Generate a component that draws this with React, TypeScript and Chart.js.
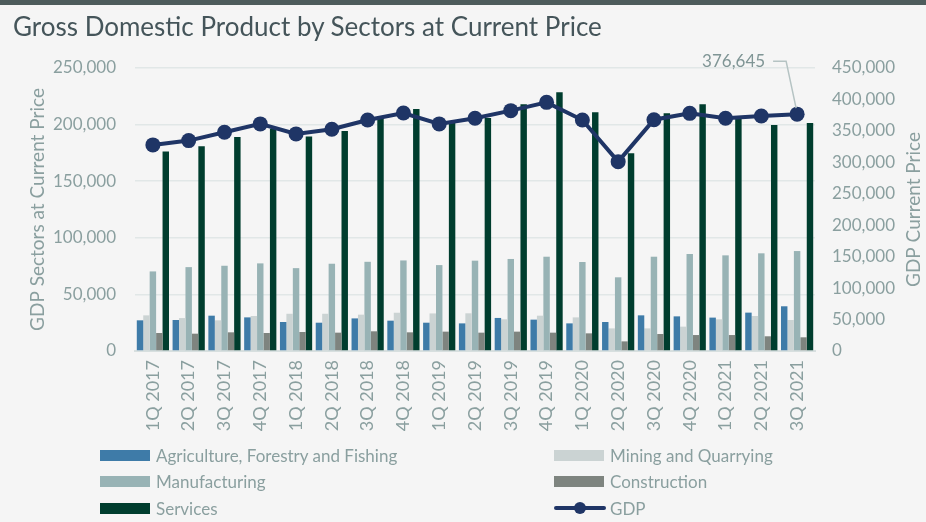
import React, { useEffect, useRef } from "react";
import { Chart, registerables } from "chart.js";

Chart.register(...registerables);

const categories = [
  "1Q 2017", "2Q 2017", "3Q 2017", "4Q 2017",
  "1Q 2018", "2Q 2018", "3Q 2018", "4Q 2018",
  "1Q 2019", "2Q 2019", "3Q 2019", "4Q 2019",
  "1Q 2020", "2Q 2020", "3Q 2020", "4Q 2020",
  "1Q 2021", "2Q 2021", "3Q 2021",
];

const agriculture = [27100, 27400, 31200, 29700, 25600, 25000, 28800, 26800, 25000, 24400, 29200, 27700, 24400, 25600, 31500, 30600, 29500, 33900, 39500];
const mining = [31500, 29100, 27100, 30900, 32900, 32900, 32100, 33800, 33200, 33300, 28000, 31200, 29700, 20000, 20000, 21500, 28000, 30900, 27400];
const manufacturing = [70300, 74100, 75300, 77400, 73200, 77100, 78800, 80000, 75900, 79800, 81300, 83300, 78600, 65100, 83300, 85700, 84500, 86300, 88300];
const construction = [15900, 15300, 16500, 15900, 16800, 16200, 17400, 16500, 17100, 16200, 17100, 16200, 15600, 8500, 15000, 14100, 14100, 13000, 12100];
const services = [176200, 180900, 189100, 196400, 189400, 194400, 205800, 213800, 202100, 205800, 217900, 228500, 210800, 174600, 210000, 217900, 205000, 199700, 201400];
const gdp = [327700, 334600, 347800, 361100, 345200, 352600, 367400, 378500, 361100, 370000, 382200, 395400, 367300, 301100, 367800, 377900, 370000, 373700, 376645];

const leftTicks = [0, 50000, 100000, 150000, 200000, 250000];
const rightTicks = [0, 50000, 100000, 150000, 200000, 250000, 300000, 350000, 400000, 450000];

const seriesNames = [
  "Agriculture, Forestry and Fishing",
  "Mining and Quarrying",
  "Manufacturing",
  "Construction",
  "Services",
  "GDP",
];
const seriesColors = ["#3e7ba8", "#cbd3d3", "#98b3b5", "#7e847f", "#003d2e", "#1f3566"];
const rightTitle = "GDP Current Price";

const FONT = "Lato, 'Open Sans', sans-serif";
const TEXT = "#8a9f9f";

const fmt = (v: number) => Number(v).toLocaleString("en-US");

const annotationPlugin = {
  id: "lastLabel",
  afterDatasetsDraw(chart: any) {
    const idx = chart.data.datasets.findIndex((d: any) => d.type === "line");
    if (idx < 0) return;
    const meta = chart.getDatasetMeta(idx);
    const last = meta.data[meta.data.length - 1];
    if (!last) return;
    const { x, y } = last;
    const value = chart.data.datasets[idx].data[meta.data.length - 1];
    const ctx = chart.ctx;
    ctx.save();
    ctx.strokeStyle = "#b5c3c3";
    ctx.lineWidth = 1.5;
    ctx.beginPath();
    ctx.moveTo(x - 24, y - 53);
    ctx.lineTo(x - 11, y - 53);
    ctx.lineTo(x - 1, y - 6);
    ctx.stroke();
    ctx.fillStyle = "#7f9595";
    ctx.font = `17px ${FONT}`;
    ctx.textAlign = "right";
    ctx.textBaseline = "middle";
    ctx.fillText(fmt(value), x - 32, y - 53);
    ctx.restore();
  },
};

const rightTitlePlugin = {
  id: "rightTitle",
  afterDraw(chart: any) {
    const scale = chart.scales.y1;
    const ctx = chart.ctx;
    const cy = (chart.chartArea.top + chart.chartArea.bottom) / 2;
    ctx.save();
    ctx.translate(scale.right - 12, cy);
    ctx.rotate(-Math.PI / 2);
    ctx.fillStyle = TEXT;
    ctx.font = `19px ${FONT}`;
    ctx.textAlign = "center";
    ctx.textBaseline = "middle";
    ctx.fillText(rightTitle, 0, 0);
    ctx.restore();
  },
};

export default function App() {
  const canvasRef = useRef<HTMLCanvasElement | null>(null);

  useEffect(() => {
    document.body.style.margin = "0";
    const canvas = canvasRef.current;
    if (!canvas) return;
    const barSets = [agriculture, mining, manufacturing, construction, services].map((data, i) => ({
      type: "bar" as const,
      label: seriesNames[i],
      data,
      backgroundColor: seriesColors[i],
      borderWidth: 0,
      barPercentage: 1,
      categoryPercentage: 0.9,
      yAxisID: "y",
      order: 1,
    }));
    const chart = new Chart(canvas, {
      type: "bar",
      data: {
        labels: categories,
        datasets: [
          ...barSets,
          {
            type: "line" as const,
            label: seriesNames[5],
            data: gdp,
            borderColor: seriesColors[5],
            backgroundColor: seriesColors[5],
            borderWidth: 4,
            pointRadius: 7.5,
            pointHoverRadius: 7.5,
            pointBackgroundColor: seriesColors[5],
            pointBorderWidth: 0,
            tension: 0,
            yAxisID: "y1",
            order: 0,
          } as any,
        ],
      },
      options: {
        animation: false,
        responsive: false,
        maintainAspectRatio: false,
        layout: { padding: { top: 68, bottom: 0, left: 0, right: 0 } },
        plugins: {
          legend: { display: false },
          tooltip: { enabled: false },
          title: { display: false },
        },
        scales: {
          x: {
            offset: true,
            grid: { display: false, drawTicks: false },
            border: { display: true, color: "#d7dfdf", width: 2 },
            ticks: {
              color: TEXT,
              font: { family: FONT, size: 18 },
              maxRotation: 90,
              minRotation: 90,
              padding: 9,
              autoSkip: false,
            },
            afterFit(scale: any) {
              scale.height = 171;
            },
          },
          y: {
            position: "left",
            min: 0,
            max: 250000,
            afterBuildTicks(scale: any) {
              scale.ticks = leftTicks.map((v) => ({ value: v }));
            },
            grid: { color: "#e1e7e7", lineWidth: 1.5, drawTicks: false },
            border: { display: false },
            ticks: {
              color: TEXT,
              font: { family: FONT, size: 17 },
              padding: 19,
              callback: (v: any) => fmt(v),
            },
            title: {
              display: true,
              text: "GDP Sectors at Current Price",
              color: TEXT,
              font: { family: FONT, size: 19 },
              padding: { top: 26, bottom: 0 },
            },
            afterFit(scale: any) {
              scale.width = 135;
            },
          },
          y1: {
            position: "right",
            min: 0,
            max: 450000,
            afterBuildTicks(scale: any) {
              scale.ticks = rightTicks.map((v) => ({ value: v }));
            },
            grid: { display: false, drawTicks: false },
            border: { display: false },
            ticks: {
              color: TEXT,
              font: { family: FONT, size: 17 },
              padding: 17,
              callback: (v: any) => fmt(v),
            },
            title: { display: false },
            afterFit(scale: any) {
              scale.width = 111;
            },
          },
        },
      },
      plugins: [annotationPlugin, rightTitlePlugin],
    });
    return () => chart.destroy();
  }, []);

  const legendRows = [
    [0, 1],
    [2, 3],
    [4, 5],
  ];

  return (
    <div
      style={{
        position: "relative",
        width: 926,
        height: 522,
        background: "#f5f5f5",
        overflow: "hidden",
        fontFamily: FONT,
      }}
    >
      <div style={{ position: "absolute", left: 0, top: 0, width: 926, height: 5, background: "#4e5c5c" }} />
      <canvas ref={canvasRef} width={926} height={522} style={{ position: "absolute", left: 0, top: 0 }} />
      <div
        style={{
          position: "absolute",
          left: 13,
          top: 10,
          fontSize: 26,
          color: "#45555a",
          whiteSpace: "nowrap",
          lineHeight: "32px",
        }}
      >
        Gross Domestic Product by Sectors at Current Price
      </div>
      {legendRows.map((row, r) =>
        row.map((si, c) => {
          const left = c === 0 ? 100 : 554;
          const top = 455 + r * 26.5;
          const isLine = si === 5;
          return (
            <div key={si} style={{ position: "absolute", left, top: top - 12, height: 24, display: "flex", alignItems: "center" }}>
              {isLine ? (
                <div style={{ position: "relative", width: 52, height: 24 }}>
                  <div style={{ position: "absolute", left: 0, top: 10, width: 52, height: 4, background: seriesColors[si], borderRadius: 2 }} />
                  <div style={{ position: "absolute", left: 20, top: 6, width: 12, height: 12, background: seriesColors[si], borderRadius: 6 }} />
                </div>
              ) : (
                <div style={{ width: 50, height: 11, background: seriesColors[si] }} />
              )}
              <span style={{ marginLeft: isLine ? 4 : 6, fontSize: 17, color: TEXT, whiteSpace: "nowrap" }}>{seriesNames[si]}</span>
            </div>
          );
        })
      )}
    </div>
  );
}
